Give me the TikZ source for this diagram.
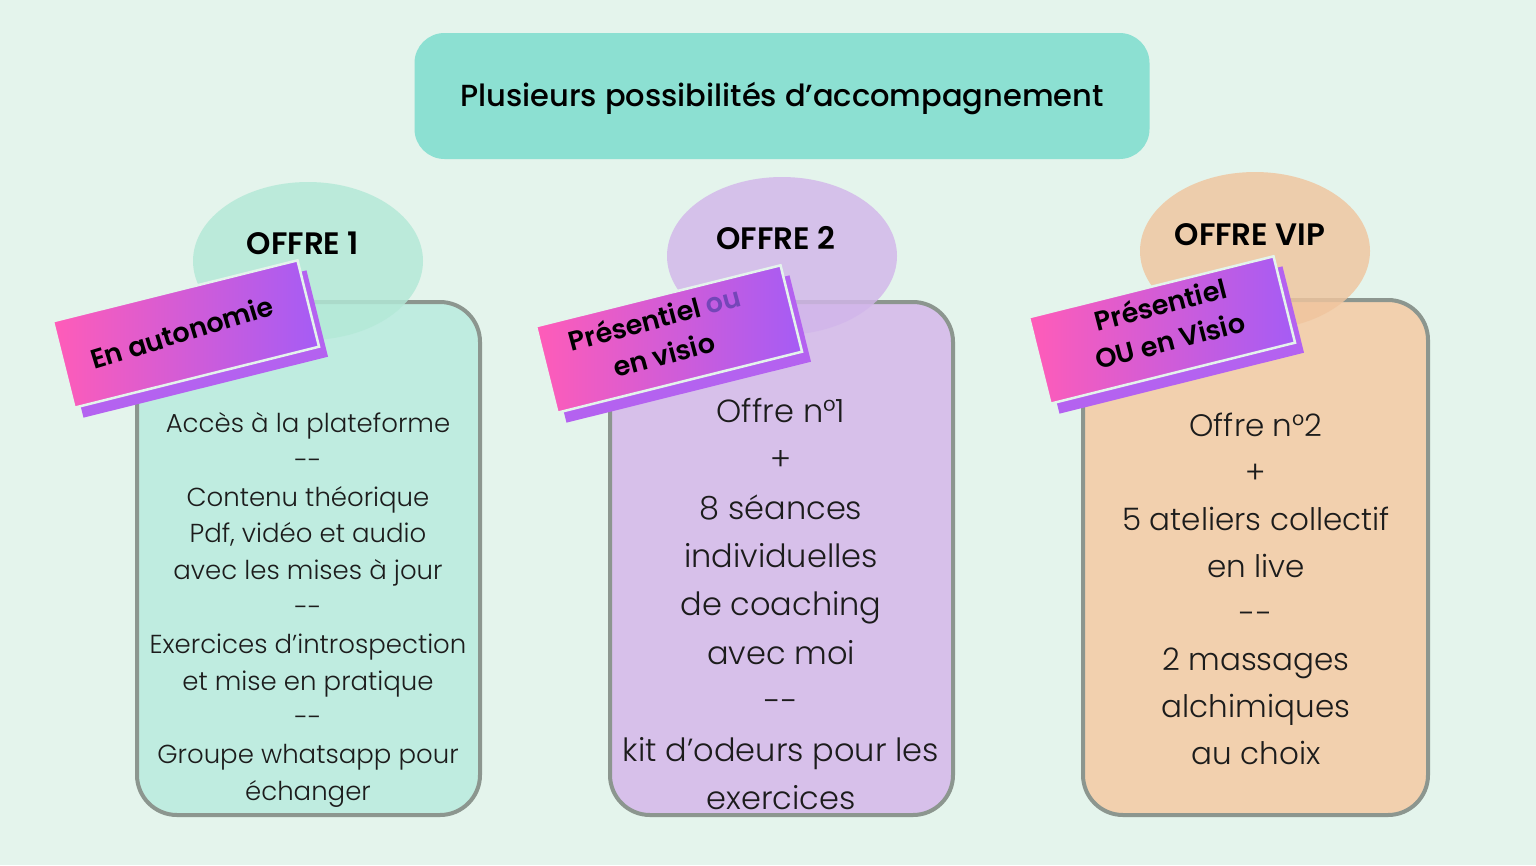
\documentclass[tikz,border=0pt]{standalone}
\usepackage{fontspec}
\setmainfont{Poppins}[UprightFont=* Light, BoldFont=* SemiBold]
\newfontfamily\titlefont{Poppins}[UprightFont=* Medium]
\usetikzlibrary{shapes.geometric}
\definecolor{bgc}{HTML}{E4F4EC}
\definecolor{titc}{HTML}{8CE0D2}
\definecolor{boxa}{HTML}{BFECE0}
\definecolor{boxb}{HTML}{D7C0EA}
\definecolor{boxc}{HTML}{F2D0AE}
\definecolor{ella}{HTML}{B3E9D7}
\definecolor{ellb}{HTML}{D2B6EA}
\definecolor{ellc}{HTML}{F0C59E}
\definecolor{bordc}{HTML}{8C968F}
\definecolor{pinkc}{HTML}{FF5CB8}
\definecolor{purc}{HTML}{A55CF5}
\definecolor{shadc}{HTML}{B462F0}
\definecolor{ouc}{HTML}{7446B8}
\definecolor{txtc}{HTML}{1C1C1C}
\tikzset{
  offerbox/.style={draw=bordc, line width=4pt, rounded corners=40pt},
  bubble/.style={ellipse, inner sep=0pt, minimum width=230pt, minimum height=158pt, fill opacity=0.82},
  bubbletext/.style={font=\bfseries\fontsize{31}{33}\selectfont, text=black},
  ribbonface/.style={rectangle, minimum width=252pt, minimum height=89pt, rotate=14, inner sep=0pt,
    left color=pinkc, right color=purc, draw=bgc, line width=2.5pt},
  ribbonshadow/.style={rectangle, minimum width=252pt, minimum height=89pt, rotate=14, inner sep=0pt, fill=shadc},
  ribbontext/.style={align=center, inner sep=0pt, font=\bfseries\fontsize{27}{37}\selectfont, text=black},
  bodytext/.style={align=center, text=txtc, inner sep=0pt}
}
\begin{document}
\begin{tikzpicture}[x=1pt,y=-1pt]
\path[use as bounding box, fill=bgc] (0,0) rectangle (1536,865);

% title
\node[fill=titc, rounded corners=30pt, minimum width=735pt, minimum height=126pt, inner sep=0pt,
  font=\titlefont\fontsize{30.5}{34}\selectfont, text=black] (title) at (782,96) {};
\node[font=\titlefont\fontsize{30.5}{34}\selectfont, text=black, inner sep=0pt] (titletext) at (782,99) {Plusieurs possibilités d’accompagnement};

% boxes
\path[offerbox, fill=boxa] (137,302) rectangle (480,815);
\path[offerbox, fill=boxb] (610,302) rectangle (953,815);
\path[offerbox, fill=boxc] (1083,300) rectangle (1428,815);

% bubbles
\node[bubble, fill=ella] (e1) at (308,261) {};
\node[bubble, fill=ellb] (e2) at (782,256) {};
\node[bubble, fill=ellc] (e3) at (1255,251) {};
\node[bubbletext] (t1) at (303,243) {OFFRE 1};
\node[bubbletext] (t2) at (776,238) {OFFRE 2};
\node[bubbletext] (t3) at (1250,235) {OFFRE VIP};

% ribbons
\node[ribbonshadow] (s1) at (195,344) {};
\node[ribbonface] (r1) at (186,334) {};
\node[ribbontext, rotate=17] (rt1) at (182,332) {En autonomie};
\node[ribbonshadow] (s2) at (678,349) {};
\node[ribbonface] (r2) at (669,339) {};
\node[ribbontext, rotate=15] (rt2) at (659,336) {Présentiel \textcolor{ouc}{ou}\\en visio};
\node[ribbonshadow] (s3) at (1171,340) {};
\node[ribbonface] (r3) at (1162,330) {};
\node[ribbontext, rotate=14.5] (rt3) at (1165,322) {Présentiel\\OU en Visio};

% body texts
\node[bodytext, font=\fontsize{26}{36.8}\selectfont] (b1) at (308,610) {Accès à la plateforme\\-{}-\\Contenu théorique\\Pdf, vidéo et audio\\avec les mises à jour\\-{}-\\Exercices d’introspection\\et mise en pratique\\-{}-\\Groupe whatsapp pour\\échanger};
\node[bodytext, font=\fontsize{32}{48.4}\selectfont] (b2) at (781,604) {Offre n°1\\+\\8 séances\\individuelles\\de coaching\\avec moi\\-{}-\\kit d’odeurs pour les\\exercices};
\node[bodytext, font=\fontsize{31}{46.9}\selectfont] (b3) at (1256,589) {Offre n°2\\+\\5 ateliers collectif\\en live\\-{}-\\2 massages\\alchimiques\\au choix};
\end{tikzpicture}
\end{document}
